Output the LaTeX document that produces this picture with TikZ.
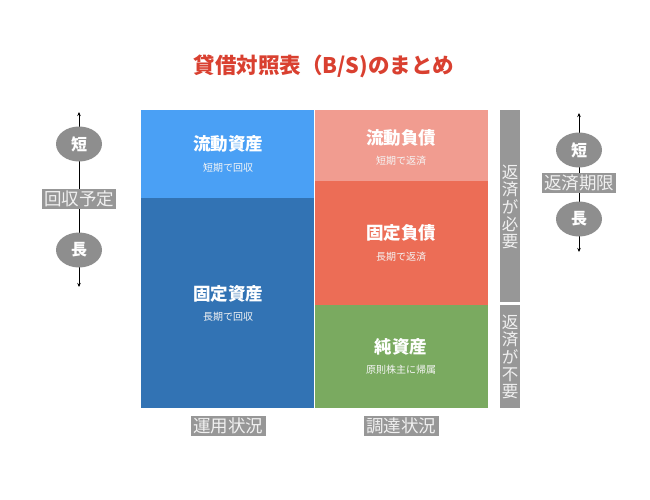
\documentclass[tikz,border=0pt]{standalone}
\usepackage{fontspec}
\setmainfont{Noto Sans CJK JP}
\usetikzlibrary{arrows.meta}
\definecolor{lblue}{HTML}{4AA0F5}
\definecolor{dblue}{HTML}{3273B4}
\definecolor{lpink}{HTML}{F19C90}
\definecolor{lred}{HTML}{EC6D56}
\definecolor{lgreen}{HTML}{7AAA60}
\definecolor{bargray}{HTML}{979797}
\definecolor{ellgray}{HTML}{8E8E8E}
\definecolor{titlered}{HTML}{D94030}
\definecolor{lbltext}{HTML}{F0F0F0}
\tikzset{
  blk/.style={rectangle, anchor=north west, inner sep=0pt, outer sep=0pt},
  maintxt/.style={text=white, font=\bfseries\fontsize{17.5}{20}\selectfont, inner sep=0pt},
  subtxt/.style={text=white!92!gray, font=\fontsize{10}{12}\selectfont, inner sep=0pt},
  axisell/.style={ellipse, fill=ellgray, minimum width=46pt, minimum height=35pt, inner sep=0pt, text=white, font=\bfseries\fontsize{16}{18}\selectfont},
  graylbl/.style={rectangle, fill=bargray, text=lbltext, inner sep=0pt, minimum width=75pt, minimum height=20pt, font=\fontsize{17.5}{20}\selectfont},
  vbar/.style={rectangle, anchor=north west, fill=bargray, inner sep=0pt, minimum width=20pt},
  vtxt/.style={text=lbltext, align=center, inner sep=0pt, font=\fontsize{16.5}{17.4}\selectfont},
  axarr/.style={{Stealth[length=4pt,width=3.5pt]}-{Stealth[length=4pt,width=3.5pt]}, line width=0.8pt, black},
}
\usetikzlibrary{shapes.geometric}
\begin{document}
\begin{tikzpicture}[x=1pt,y=-1pt]
\useasboundingbox (0,0) rectangle (650,500);
% title
\node[text=titlered, font=\bfseries\fontsize{21.5}{24}\selectfont, inner sep=0pt] (title) at (324,66) {貸借対照表（B/S)のまとめ};
% blocks
\node[blk, fill=lblue, minimum width=173pt, minimum height=88pt] (ca) at (141,110) {};
\node[blk, fill=dblue, minimum width=173pt, minimum height=210pt] (fa) at (141,198) {};
\node[blk, fill=lpink, minimum width=173pt, minimum height=71pt] (cl) at (315,110) {};
\node[blk, fill=lred, minimum width=173pt, minimum height=124pt] (fl) at (315,181) {};
\node[blk, fill=lgreen, minimum width=173pt, minimum height=103pt] (na) at (315,305) {};
% block texts
\node[maintxt] (cat) at (228,144) {流動資産};
\node[subtxt] (cas) at (228,168) {短期で回収};
\node[maintxt] (fat) at (228,294) {固定資産};
\node[subtxt] (fas) at (228,317) {長期で回収};
\node[maintxt] (clt) at (401,138) {流動負債};
\node[subtxt] (cls) at (401,161) {短期で返済};
\node[maintxt] (flt) at (401,233) {固定負債};
\node[subtxt] (fls) at (401,257) {長期で返済};
\node[maintxt] (nat) at (401,347) {純資産};
\node[subtxt] (nas) at (401,370) {原則株主に帰属};
% bottom labels
\node[graylbl] (use) at (228,426) {運用状況};
\node[graylbl] (src) at (401,426) {調達状況};
% right vertical bars
\node[vbar, minimum height=192pt] (need) at (500,110) {};
\node[vbar, minimum height=103pt] (noneed) at (500,305) {};
\node[vtxt] (needt) at (510,207) {返\\済\\が\\必\\要};
\node[vtxt] (noneedt) at (510,357) {返\\済\\が\\不\\要};
% left axis
\coordinate (ltop) at (79,112);
\coordinate (lbot) at (79,287);
\draw[axarr] (ltop) -- (lbot);
\node[axisell] (lshort) at (79,144) {短};
\node[graylbl, minimum width=74pt] (lrec) at (79,199) {回収予定};
\node[axisell] (llong) at (79,250) {長};
% right axis
\coordinate (rtop) at (579,113);
\coordinate (rbot) at (579,252);
\draw[axarr] (rtop) -- (rbot);
\node[axisell] (rshort) at (579,150) {短};
\node[graylbl, minimum width=74pt] (rdue) at (579,183) {返済期限};
\node[axisell] (rlong) at (579,219) {長};
\end{tikzpicture}
\end{document}
